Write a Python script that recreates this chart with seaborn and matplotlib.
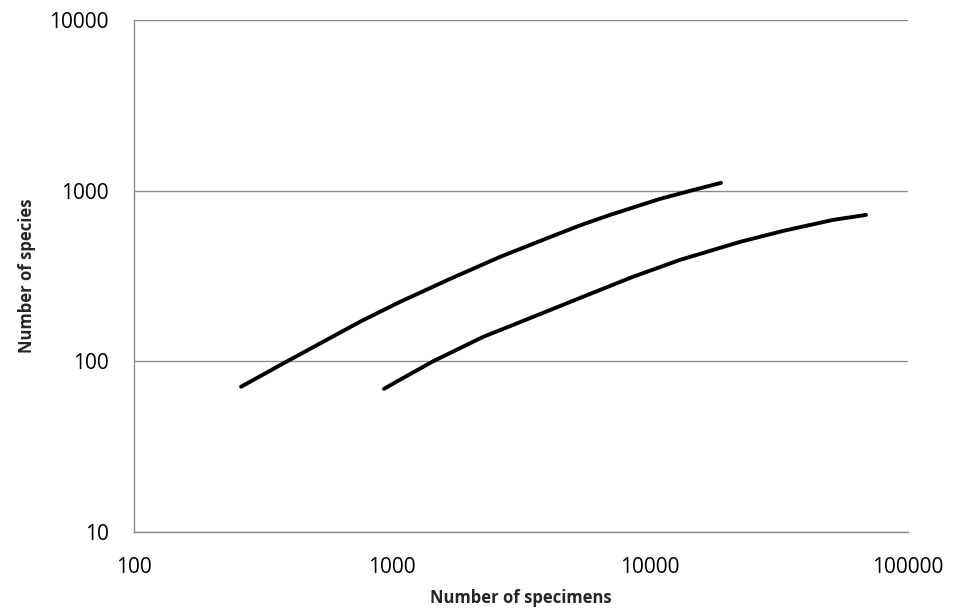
"""
Courbes de raréfaction : nombre d'espèces vs nombre de spécimens (log-log).
Sortie : out.png
"""

import pandas as pd
import matplotlib
matplotlib.use("Agg")
import matplotlib.pyplot as plt
import seaborn as sns
from matplotlib.ticker import FixedLocator, FixedFormatter, NullLocator

# ── Données ─────────────────────────────────────────────────────
specimens_a = [260, 392, 765, 1074, 1678, 2621, 3848, 5356, 6998, 10935, 14290, 18850]
species_a = [71, 100, 173, 223, 304, 409, 515, 626, 721, 895, 997, 1111]

specimens_b = [931, 1074, 1442, 2253, 3519, 5500, 8594, 13070, 22330, 32780, 51210, 68740]
species_b = [69, 78, 100, 139, 182, 239, 313, 393, 501, 581, 674, 721]

x_ticks = [100, 1000, 10000, 100000]
y_ticks = [10, 100, 1000, 10000]

df = pd.concat([
    pd.DataFrame({"specimens": specimens_a, "species": species_a, "curve": "A"}),
    pd.DataFrame({"specimens": specimens_b, "species": species_b, "curve": "B"}),
])

sns.set_style("white")
plt.rcParams["font.family"] = ["Open Sans", "DejaVu Sans"]

fig = plt.figure(figsize=(9.56, 6.15), dpi=100)
ax = fig.add_axes([134 / 956, 1 - 532 / 615, (908 - 134) / 956, (532 - 20) / 615])

sns.lineplot(data=df, x="specimens", y="species", units="curve", estimator=None,
             sort=False, color="black", linewidth=2.8, ax=ax, legend=False)
for line in ax.get_lines():
    line.set_solid_joinstyle("round")
    line.set_solid_capstyle("round")

ax.set_xscale("log")
ax.set_yscale("log")
ax.set_xlim(100, 100000)
ax.set_ylim(10, 10000)

ax.xaxis.set_major_locator(FixedLocator(x_ticks))
ax.xaxis.set_major_formatter(FixedFormatter([str(v) for v in x_ticks]))
ax.yaxis.set_major_locator(FixedLocator(y_ticks))
ax.yaxis.set_major_formatter(FixedFormatter([str(v) for v in y_ticks]))
ax.xaxis.set_minor_locator(NullLocator())
ax.yaxis.set_minor_locator(NullLocator())

ax.grid(axis="y", color="#8c8c8c", linewidth=1)
ax.grid(axis="x", visible=False)
for side in ["top", "right"]:
    ax.spines[side].set_visible(False)
for side in ["left", "bottom"]:
    ax.spines[side].set_color("#8c8c8c")
    ax.spines[side].set_linewidth(1)

ax.tick_params(axis="both", which="major", direction="out", length=6,
               color="#8c8c8c", labelsize=15, labelcolor="black", pad=12)

ax.set_xlabel("Number of specimens", fontsize=12, fontweight="bold", labelpad=8)
ax.set_ylabel("Number of species", fontsize=12, fontweight="bold", labelpad=10)

fig.savefig("out.png", dpi=100)
plt.close()
